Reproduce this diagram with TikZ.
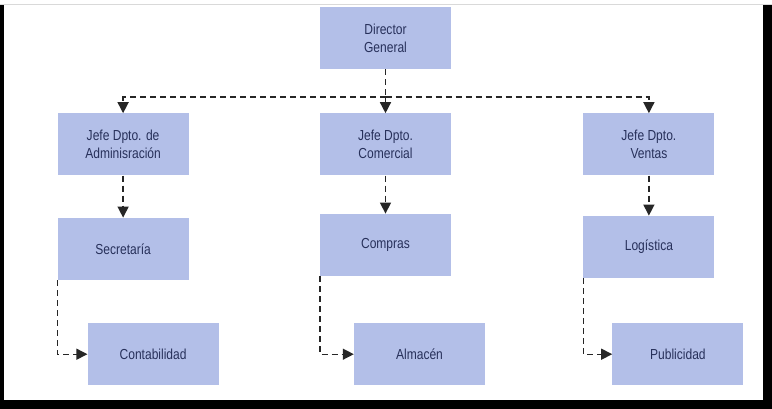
\documentclass[tikz,border=0pt]{standalone}
\usepackage{fontspec}
\usepackage{tikz}
\usetikzlibrary{positioning,arrows.meta}
\newfontfamily\condfont[FakeStretch=0.83]{Liberation Sans}
\definecolor{boxblue}{HTML}{B3BFE8}
\definecolor{navytext}{HTML}{27305A}
\tikzset{
  box/.style={fill=boxblue, text=navytext, minimum width=131pt, minimum height=62pt,
              inner sep=0pt, align=center, font=\condfont\fontsize{14.5}{18}\selectfont},
  link/.style={draw=black!85, line width=1.4pt, dash pattern=on 6pt off 4pt},
  >={Triangle[length=11pt,width=11pt]}
}

\begin{document}
\begin{tikzpicture}
  % frame
  \useasboundingbox (0,0) rectangle (772pt,-409pt);
  \fill[white] (0,0) rectangle (772pt,-409pt);
  \fill[black] (0,-5pt) rectangle (772pt,-409pt);
  \fill[white] (4pt,-5pt) rectangle (763pt,-400pt);
  \draw[black!15, line width=1pt] (0,-4.5pt) -- (772pt,-4.5pt);

  \node[box] (dir) at (385.5pt,-38pt) {Director\\General};
  \coordinate[below=28pt of dir] (bus);
  \node[box] (com) [below=44pt of dir] {Jefe Dpto.\\Comercial};
  \node[box] (adm) [left=131pt of com] {Jefe Dpto. de\\Adminisración};
  \node[box] (ven) [right=132pt of com] {Jefe Dpto.\\Ventas};
  \node[box] (sec) [below=42pt of adm] {Secretaría};
  \node[box] (comp) [below=38pt of com] {Compras};
  \node[box] (log) [below=40pt of ven] {Logística};
  \node[box] (cont) [below right=43pt and 30pt of sec.south west] {Contabilidad};
  \node[box] (alm) [below right=47pt and 34pt of comp.south west] {Almacén};
  \node[box] (pub) [below right=45pt and 29pt of log.south west] {Publicidad};

  \draw[link] (dir) -- (bus);
  \draw[link,->] (bus) -| (adm);
  \draw[link,->] (bus) -- (com);
  \draw[link,->] (bus) -| (ven);
  \draw[link,->] (adm) -- (sec);
  \draw[link,->] (com) -- (comp);
  \draw[link,->] (ven) -- (log);
  \draw[link,->] (sec.south west) |- (cont);
  \draw[link,->] (comp.south west) |- (alm);
  \draw[link,->] (log.south west) |- (pub);
\end{tikzpicture}
\end{document}
